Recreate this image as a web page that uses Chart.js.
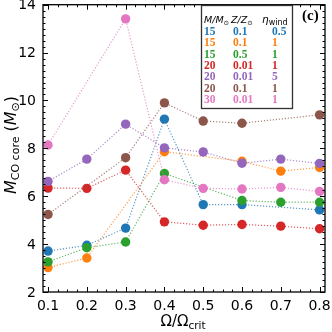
<!DOCTYPE html>
<html>
<head>
<meta charset="utf-8">
<script src="https://cdn.jsdelivr.net/npm/chart.js@4.4.0/dist/chart.umd.min.js"></script>
<style>
  html, body { margin: 0; padding: 0; background: #fff; }
  #chart { display: block; }
</style>
</head>
<body>
<canvas id="chart" width="332" height="332"></canvas>
<script>
// rotation rate (x axis)
const omega = [0.1, 0.2, 0.3, 0.4, 0.5, 0.6, 0.7, 0.8];

// CO core masses, one array per model (null = no run at that rotation)
const mcoM15Z01Eta05 = [3.71, 3.95, 4.67, 9.22, 5.65, 5.65, null, 5.43];
const mcoM15Z01Eta1 = [3.02, 3.42, null, 7.86, null, 7.46, 7.05, 7.2];
const mcoM15Z05Eta1 = [3.26, 3.85, 4.09, 6.95, null, 5.82, 5.75, 5.75];
const mcoM20Z001Eta1 = [6.34, 6.33, 7.09, 4.93, 4.79, 4.82, 4.75, 4.64];
const mcoM20Z001Eta5 = [6.62, 7.55, 9.01, 8.02, 7.85, 7.38, 7.55, 7.37];
const mcoM20Z01Eta1 = [5.24, null, 7.61, 9.9, 9.14, 9.05, null, 9.4];
const mcoM30Z001Eta1 = [8.14, null, 13.41, 6.69, 6.33, 6.3, 6.37, 6.2];

// legend table
const massLabels = ["15", "15", "15", "20", "20", "20", "30"];
const zLabels = ["0.1", "0.1", "0.5", "0.01", "0.01", "0.1", "0.01"];
const etaLabels = ["0.5", "1", "1", "1", "5", "1", "1"];

const colors = ["#1f77b4", "#ff7f0e", "#2ca02c", "#d62728", "#9467bd", "#8c564b", "#e377c2"];
const allSeries = [mcoM15Z01Eta05, mcoM15Z01Eta1, mcoM15Z05Eta1, mcoM20Z001Eta1,
                   mcoM20Z001Eta5, mcoM20Z01Eta1, mcoM30Z001Eta1];

const xTicks = [0.1, 0.2, 0.3, 0.4, 0.5, 0.6, 0.7, 0.8];
const yTicks = [2, 4, 6, 8, 10, 12, 14];

function hexA(hex, a) {
  const n = parseInt(hex.slice(1), 16);
  return `rgba(${(n >> 16) & 255}, ${(n >> 8) & 255}, ${n & 255}, ${a})`;
}

// draws a list of text runs one after another, returns the total width
function drawRuns(ctx, runs, x, y, measureOnly) {
  let w = 0;
  runs.forEach((r) => {
    ctx.font = r.font;
    if (!measureOnly) {
      ctx.fillStyle = r.color || "#000";
      ctx.fillText(r.t, x + w, y + (r.dy || 0));
    }
    w += ctx.measureText(r.t).width;
  });
  return w;
}

const decorations = {
  id: "decorations",
  afterDatasetsDraw(chart) {
    const ctx = chart.ctx;
    const { left, right, top, bottom } = chart.chartArea;
    const xs = chart.scales.x;
    const ys = chart.scales.y;
    ctx.save();
    ctx.strokeStyle = "#000";

    // inward ticks on all four sides
    ctx.lineWidth = 1;
    const tick = (px, len, horiz) => {
      ctx.beginPath();
      if (horiz) {
        ctx.moveTo(px, bottom); ctx.lineTo(px, bottom - len);
        ctx.moveTo(px, top); ctx.lineTo(px, top + len);
      } else {
        ctx.moveTo(left, px); ctx.lineTo(left + len, px);
        ctx.moveTo(right, px); ctx.lineTo(right - len, px);
      }
      ctx.stroke();
    };
    for (let k = 0; k <= 30; k++) {
      const v = 0.1 + k * 0.025;
      if (v > xs.max) break;
      tick(Math.round(xs.getPixelForValue(v)) + 0.5, k % 4 === 0 ? 5 : 2.5, true);
    }
    for (let k = 0; k <= 48; k++) {
      const v = 2 + k * 0.25;
      tick(Math.round(ys.getPixelForValue(v)) + 0.5, k % 8 === 0 ? 5 : 2.5, false);
    }

    // frame
    ctx.lineWidth = 1.3;
    ctx.strokeRect(left, top, right - left, bottom - top);

    // tick labels
    ctx.fillStyle = "#000";
    ctx.font = "14px 'DejaVu Sans'";
    ctx.textAlign = "right";
    ctx.textBaseline = "middle";
    yTicks.forEach((v) => ctx.fillText(String(v), 36, ys.getPixelForValue(v) + 1));
    ctx.textAlign = "center";
    ctx.textBaseline = "top";
    xTicks.forEach((v) => ctx.fillText(v.toFixed(1), xs.getPixelForValue(v), 299));

    // legend table
    const bx = 201, by = 5, bw = 91, bh = 103;
    ctx.fillStyle = "#fff";
    ctx.fillRect(bx, by, bw, bh);
    ctx.lineWidth = 1.3;
    ctx.strokeStyle = "#333";
    ctx.strokeRect(bx + 0.5, by + 0.5, bw, bh);

    ctx.textBaseline = "alphabetic";
    ctx.textAlign = "left";
    const it = "italic 9.5px 'DejaVu Sans'";
    const sub = "6.5px 'DejaVu Sans'";
    drawRuns(ctx, [{ t: "M/M", font: it }, { t: "⊙", font: sub, dy: 2 }], 204, 23);
    drawRuns(ctx, [{ t: "Z/Z", font: it }, { t: "⊙", font: sub, dy: 2 }], 231, 23);
    drawRuns(ctx, [{ t: "η", font: "italic 10.5px 'DejaVu Sans'" }, { t: "wind", font: "8px 'DejaVu Sans'", dy: 2 }], 262, 23);

    ctx.font = "bold 11.5px 'Liberation Serif'";
    massLabels.forEach((m, i) => {
      const yb = 35 + i * 11.3;
      ctx.fillStyle = colors[i];
      ctx.fillText(m, 204, yb);
      ctx.fillText(zLabels[i], 233, yb);
      ctx.fillText(etaLabels[i], 272, yb);
    });

    // panel label
    ctx.fillStyle = "#000";
    ctx.font = "bold 15px 'Liberation Serif'";
    ctx.fillText("(c)", 302, 20);

    // x title
    const xRuns = [{ t: "Ω/Ω", font: "15px 'DejaVu Sans'" }, { t: "crit", font: "10.5px 'DejaVu Sans'", dy: 3 }];
    const xw = drawRuns(ctx, xRuns, 0, 0, true);
    drawRuns(ctx, xRuns, 183 - xw / 2, 326);

    // y title
    const yRuns = [
      { t: "M", font: "italic 16px 'DejaVu Sans'" },
      { t: "CO core", font: "11px 'DejaVu Sans'", dy: 3 },
      { t: " (", font: "16px 'DejaVu Sans'" },
      { t: "M", font: "italic 16px 'DejaVu Sans'" },
      { t: "⊙", font: "11px 'DejaVu Sans'", dy: 3 },
      { t: ")", font: "16px 'DejaVu Sans'" },
    ];
    const yw = drawRuns(ctx, yRuns, 0, 0, true);
    ctx.translate(16, 145);
    ctx.rotate(-Math.PI / 2);
    drawRuns(ctx, yRuns, -yw / 2, 0);
    ctx.restore();
  },
};

const datasets = allSeries.map((vals, i) => ({
  label: massLabels[i] + " " + zLabels[i] + " " + etaLabels[i],
  data: omega.map((x, j) => ({ x, y: vals[j] })),
  borderColor: hexA(colors[i], 0.75),
  backgroundColor: colors[i],
  pointBackgroundColor: colors[i],
  pointBorderWidth: 0,
  pointRadius: 4.7,
  borderWidth: 1.2,
  borderDash: [1.2, 1.8],
  spanGaps: true,
  tension: 0,
  order: allSeries.length - i, // later series on top, as in the original
}));

new Chart(document.getElementById("chart"), {
  type: "line",
  data: { datasets },
  options: {
    responsive: false,
    animation: false,
    devicePixelRatio: 1,
    layout: { padding: { top: 3, right: 7, left: 0, bottom: 0 } },
    plugins: { legend: { display: false }, tooltip: { enabled: false } },
    scales: {
      x: {
        type: "linear",
        min: 0.087,
        max: 0.814,
        grid: { display: false },
        border: { display: false },
        ticks: { display: false },
        afterFit: (s) => { s.height = 40; },
      },
      y: {
        min: 2,
        max: 14,
        grid: { display: false },
        border: { display: false },
        ticks: { display: false },
        afterFit: (s) => { s.width = 43; },
      },
    },
  },
  plugins: [decorations],
});
</script>
</body>
</html>
